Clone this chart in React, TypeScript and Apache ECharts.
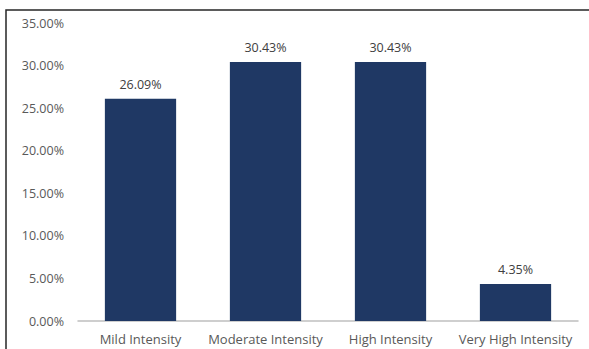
import React, { useEffect, useRef } from "react";
import * as echarts from "echarts";

const categories = ["Mild Intensity", "Moderate Intensity", "High Intensity", "Very High Intensity"];
const shares = [26.09, 30.43, 30.43, 4.35];
const yTicks = { min: 0, max: 35, interval: 5 };

const FONT = "'Open Sans', 'Noto Sans', sans-serif";

export default function App() {
  const ref = useRef<HTMLDivElement>(null);

  useEffect(() => {
    document.body.style.margin = "0";
    if (!ref.current) return;
    const chart = echarts.init(ref.current, null, { renderer: "svg" });
    chart.setOption({
      animation: false,
      backgroundColor: "#ffffff",
      grid: { left: 78, right: 11, top: 23, bottom: 28, containLabel: false },
      xAxis: {
        type: "category",
        data: categories,
        axisLine: { lineStyle: { color: "#bfbfbf", width: 1.5 } },
        axisTick: { show: false },
        axisLabel: { color: "#595959", fontFamily: FONT, fontSize: 13, margin: 11, interval: 0 },
      },
      yAxis: {
        type: "value",
        min: yTicks.min,
        max: yTicks.max,
        interval: yTicks.interval,
        splitLine: { show: false },
        axisLine: { show: false },
        axisTick: { show: false },
        axisLabel: {
          color: "#595959",
          fontFamily: FONT,
          fontSize: 12.5,
          margin: 14,
          formatter: (v: number) => v.toFixed(2) + "%",
        },
      },
      series: [
        {
          type: "bar",
          data: shares,
          barWidth: "57%",
          itemStyle: { color: "#1f3864" },
          label: {
            show: true,
            position: "top",
            distance: 8,
            color: "#404040",
            fontFamily: FONT,
            fontSize: 12.5,
            formatter: (p: any) => p.value.toFixed(2) + "%",
          },
        },
      ],
      graphic: [
        {
          type: "polyline",
          shape: { points: [[6, 349], [6, 10], [589, 10]] },
          style: { stroke: "#262626", lineWidth: 1.5, fill: "none" },
          silent: true,
        },
      ],
    });
    return () => chart.dispose();
  }, []);

  return <div ref={ref} style={{ width: 589, height: 349 }} />;
}
